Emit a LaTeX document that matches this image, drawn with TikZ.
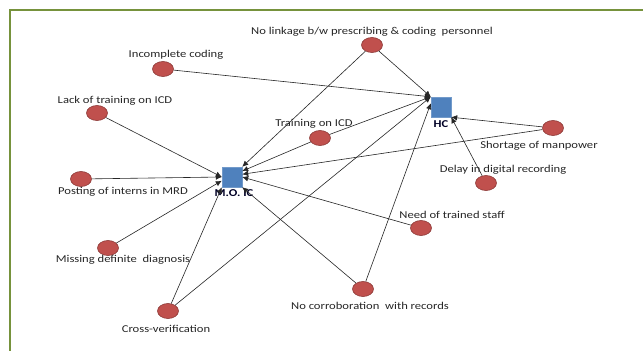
\documentclass[tikz,border=0pt]{standalone}
\usepackage{fontspec}
\setmainfont{Carlito}[FakeStretch=1.2]
\usetikzlibrary{calc,arrows.meta,shapes.geometric}
\definecolor{CauseRed}{HTML}{C0504D}
\definecolor{CauseEdge}{HTML}{8C3836}
\definecolor{AgentBlue}{HTML}{4F81BD}
\definecolor{FrameGreen}{HTML}{76923C}
\tikzset{%
	% Style of the cause node
	Cause/.style={ellipse,draw=CauseEdge,fill=CauseRed,line width=0.6pt,inner sep=0,minimum width=21pt,minimum height=15pt},
	% Style of the agent node
	Agent/.style={rectangle,fill=AgentBlue,draw=AgentBlue!80,inner sep=0,minimum size=20pt},
	% Style of the node label
	NodeName/.style={font=\fontsize{10.5}{12}\selectfont,text=black!85,inner sep=0},
	% Style of the agent label
	AgentName/.style={NodeName,font=\fontsize{10.5}{12}\selectfont\bfseries,text=black!85!blue},
	% Style of the branch
	Connection/.style={line width=0.6pt,black!85,-{Latex[length=6pt,width=5.5pt]}},
}
\begin{document}
\begin{tikzpicture}[x=1pt,y=-1pt]
\useasboundingbox (0,0) rectangle (643,351);
\fill[white] (0,0) rectangle (643,351);
\draw[FrameGreen,line width=1.4pt] (643,10) -- (10,10) -- (10,351);

%~~~~~~~~~~~~~~~~~~~~~~~~~~~~~~~~~~~~~~~~~~~~~~~~~~
% Set Nodes
%~~~~~~~~~~~~~~~~~~~~~~~~~~~~~~~~~~~~~~~~~~~~~~~~~~
\node[Agent] (MOIC) at (232, 177) {};
\node[AgentName] (MOICL) at ($ (MOIC) + (2, 16) $) {M.O. IC};

\node[Agent] (HC) at (441, 107) {};
\node[AgentName] (HCL) at ($ (HC) + (0, 17) $) {HC};

\node[Cause] (N1) at (372, 45) {};
\node[NodeName] (N1L) at ($ (N1) + (0, -13) $) {No linkage b/w prescribing \& coding\ \ personnel};

\node[Cause] (N2) at (163, 69) {};
\node[NodeName] (N2L) at ($ (N2) + (13, -14) $) {Incomplete coding};

\node[Cause] (N3) at (97, 113) {};
\node[NodeName] (N3L) at ($ (N3) + (18, -12) $) {Lack of training on ICD};

\node[Cause] (N4) at (320, 138) {};
\node[NodeName] (N4L) at ($ (N4) + (-6, -14) $) {Training on ICD};

\node[Cause] (N5) at (553, 128) {};
\node[NodeName] (N5L) at ($ (N5) + (-14, 18) $) {Shortage of manpower};

\node[Cause] (N6) at (486, 183) {};
\node[NodeName] (N6L) at ($ (N6) + (17, -13) $) {Delay in digital recording};

\node[Cause] (N7) at (81, 179) {};
\node[NodeName] (N7L) at ($ (N7) + (42, 13) $) {Posting of interns in MRD};

\node[Cause] (N8) at (421, 228) {};
\node[NodeName] (N8L) at ($ (N8) + (31, -13) $) {Need of trained staff};

\node[Cause] (N9) at (108, 248) {};
\node[NodeName] (N9L) at ($ (N9) + (15, 12) $) {Missing definite\ \ diagnosis};

\node[Cause] (N10) at (363, 289) {};
\node[NodeName] (N10L) at ($ (N10) + (7, 17) $) {No corroboration\ \ with records};

\node[Cause] (N11) at (168, 311) {};
\node[NodeName] (N11L) at ($ (N11) + (-2, 18) $) {Cross-verification};

%~~~~~~~~~~~~~~~~~~~~~~~~~~~~~~~~~~~~~~~~~~~~~~~~~~
% Set Branches
%~~~~~~~~~~~~~~~~~~~~~~~~~~~~~~~~~~~~~~~~~~~~~~~~~~
%Branches to Node HC
\draw[Connection] (N1) -- (HC.north west);
\draw[Connection] (N2) -- (HC.north west);
\draw[Connection] (N4) -- (HC.north west);
\draw[Connection] (N10) -- (HC.160);
\draw[Connection] (N11) -- (HC.north west);
\draw[Connection] (N5) -- (HC.south east);
\draw[Connection] (N6) -- (HC.south east);

%Branches to Node MOIC
\draw[Connection] (N1) -- (MOIC.north east);
\draw[Connection] (N3) -- (MOIC.west);
\draw[Connection] (N7) -- (MOIC.west);
\draw[Connection] (N4) -- (MOIC.30);
\draw[Connection] (N5) -- (MOIC.15);
\draw[Connection] (N8) -- (MOIC.east);
\draw[Connection] (N9) -- (MOIC.200);
\draw[Connection] (N11) -- (MOIC.south west);
\draw[Connection] (N10) -- (MOIC.south east);

\end{tikzpicture}
\end{document}
